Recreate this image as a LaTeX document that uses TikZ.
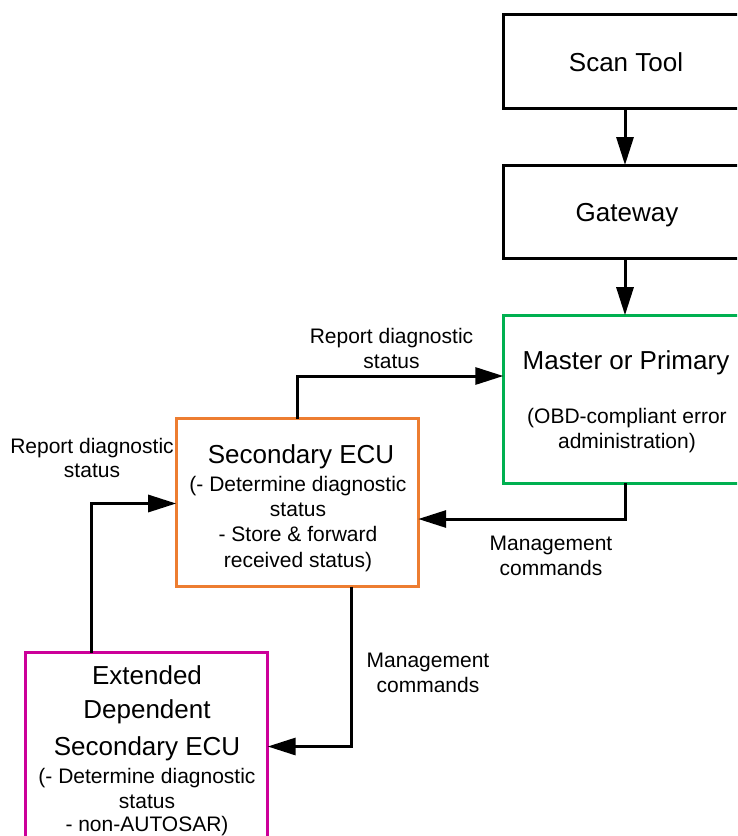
\documentclass[tikz,border=0pt]{standalone}
\usepackage{fontspec}
\setmainfont{Liberation Sans}
\usetikzlibrary{arrows.meta}
\definecolor{boxgreen}{HTML}{00B050}
\definecolor{boxorange}{HTML}{ED7D31}
\definecolor{boxmagenta}{HTML}{CC0099}
\begin{document}
\begin{tikzpicture}[x=1pt,y=-1pt,
  box/.style={draw,line width=3pt,inner sep=0pt,outer sep=0pt,rectangle},
  big/.style={font=\fontsize{26}{30}\selectfont,anchor=base,inner sep=0pt},
  small/.style={font=\fontsize{21}{25}\selectfont,anchor=base,inner sep=0pt},
  arr/.style={line width=3pt,-{Triangle[length=28pt,width=17pt]}}]
\clip (0,0) rectangle (737,836);
\fill[white] (0,0) rectangle (737,836);
% boxes
\node[box,minimum width=276.7pt,minimum height=94pt] (scan) at (641.7,61) {};
\node[box,minimum width=276.7pt,minimum height=93.3pt] (gw) at (641.7,211.7) {};
\node[box,draw=boxgreen,minimum width=276.7pt,minimum height=168pt] (mp) at (641.7,399.2) {};
\node[box,draw=boxorange,minimum width=242pt,minimum height=167.7pt] (sec) at (297.2,502.8) {};
\node[box,draw=boxmagenta,minimum width=241.7pt,minimum height=247.3pt] (ext) at (146.8,776.3) {};
% box texts
\node[big] (tscan) at (626,71) {Scan Tool};
\node[big] (tgw) at (627,221) {Gateway};
\node[big] (tmp) at (626,369) {Master or Primary};
\node[small] (tmp1) at (627,423) {(OBD-compliant error};
\node[small] (tmp2) at (627,448) {administration)};
\node[big] (tsec) at (301,463) {Secondary ECU};
\node[small] (tsec1) at (298,491) {(- Determine diagnostic};
\node[small] (tsec2) at (298,516) {status};
\node[small] (tsec3) at (298,541.5) {- Store \& forward};
\node[small] (tsec4) at (298,567) {received status)};
\node[big] (text1) at (147,684) {Extended};
\node[big] (text2) at (147,718) {Dependent};
\node[big] (text3) at (147,755) {Secondary ECU};
\node[small] (text4) at (147,783.5) {(- Determine diagnostic};
\node[small] (text5) at (147,808.5) {status};
\node[small] (text6) at (147,831) {- non-AUTOSAR)};
% connector labels
\node[small] (l1a) at (391.5,343.5) {Report diagnostic};
\node[small] (l1b) at (391.5,368.5) {status};
\node[small] (l2a) at (92,453) {Report diagnostic};
\node[small] (l2b) at (92,477.5) {status};
\node[small] (l3a) at (551,550.5) {Management};
\node[small] (l3b) at (551,575) {commands};
\node[small] (l4a) at (428,667.5) {Management};
\node[small] (l4b) at (428,692) {commands};
% helper coordinates
\coordinate (xa) at (625,0);
\coordinate (ya) at (0,376);
\coordinate (yb) at (0,519);
\coordinate (xc) at (91,0);
\coordinate (yc) at (0,503.5);
\coordinate (xd) at (351.5,0);
\coordinate (yd) at (0,746.5);
% connectors
\draw[arr] (scan.south -| xa) -- (gw.north -| xa);
\draw[arr] (gw.south -| xa) -- (mp.north -| xa);
\draw[arr] (sec.north) |- (mp.west |- ya);
\draw[arr] (mp.south -| xa) |- (sec.east |- yb);
\draw[arr] (ext.north -| xc) |- (sec.west |- yc);
\draw[arr] (sec.south -| xd) |- (ext.east |- yd);
\end{tikzpicture}
\end{document}
